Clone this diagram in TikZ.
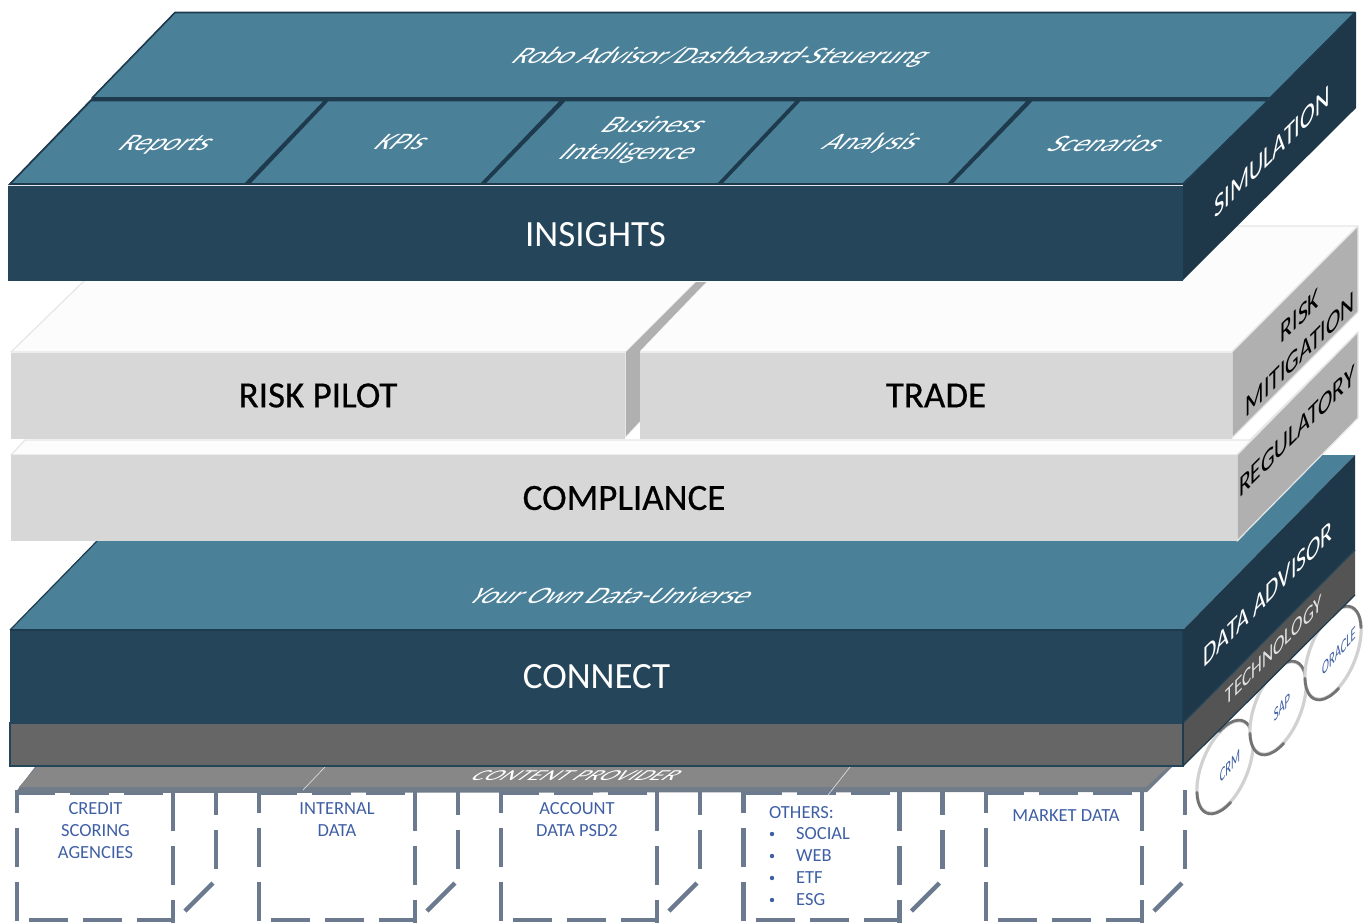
\documentclass[tikz,border=0pt]{standalone}
\usepackage{fontspec}
\setmainfont{Carlito}
\newfontfamily\heavyfont[FakeBold=0.5]{Carlito}
\definecolor{teal}{HTML}{4A8098}
\definecolor{deep}{HTML}{25455A}
\definecolor{sidedeep}{HTML}{1F3849}
\definecolor{seam}{HTML}{1E3A4D}
\definecolor{lightfront}{HTML}{D7D7D7}
\definecolor{lighttop}{HTML}{FCFCFC}
\definecolor{lightside}{HTML}{B0B0B0}
\definecolor{lightedge}{HTML}{E6E6E6}
\definecolor{dashc}{HTML}{6B7A8F}
\definecolor{bluetext}{HTML}{3F5FA5}
\tikzset{
  tealface/.style={fill=teal,draw=seam,line width=1.6pt,line join=round},
  deepfront/.style={fill=deep,draw=none,inner sep=0pt,text=white,font=\fontsize{37}{37}\selectfont},
  lightbox/.style={fill=lightfront,draw=none,inner sep=0pt,text=black,font=\heavyfont\fontsize{37}{37}\selectfont},
  lighttopf/.style={fill=lighttop,draw=lightedge,line width=1.2pt,line join=round},
  lightsidef/.style={fill=lightside,draw=lightedge,line width=1.2pt,line join=round},
  flat/.style={cm={0.95,0,0.78,0.8,(0,0)},transform shape,text=white,align=center,inner sep=0pt,font=\fontsize{#1}{33}\selectfont},
  flat/.default=29.5,
  flatlow/.style={cm={1,0,0.85,0.62,(0,0)},transform shape,text=white,align=center,inner sep=0pt,font=\fontsize{#1}{#1}\selectfont},
  sidetext/.style={cm={0.72,0.72,0,1,(0,0)},transform shape,inner sep=0pt,align=center,font=\fontsize{#1}{#1}\selectfont},
  wheeltext/.style={cm={0.55,0.62,0,1,(0,0)},transform shape,inner sep=0pt,text=bluetext,font=\fontsize{#1}{#1}\selectfont},
  dashes/.style={draw=dashc,line width=4.4pt,dash pattern=on 39pt off 15pt},
  boxtext/.style={text=bluetext,align=center,inner sep=0pt,font=\fontsize{18.5}{22}\selectfont},
  ring/.style={draw=black!18,line width=3.2pt,fill=white},
  ringdark/.style={draw=black!55,line width=2.8pt,line cap=round},
}
\newcommand{\dbox}[1]{%
  \begin{scope}[shift={(#1,0)}]
    \draw[dashes,dash phase=16pt] (0,790) -- (0,924);
    \draw[dashes] (-1,793) -- (160,793);
    \draw[dashes] (12,920) -- (158,920);
    \draw[dashes] (156,792) -- (156,924);
    \draw[dashes,dash phase=14pt] (199,790) -- (199,870);
    \draw[draw=dashc,line width=4.4pt] (196,883) -- (168,911);
  \end{scope}}
\newcommand{\wheel}[2]{%
  \begin{scope}[shift={(#1,#2)},rotate=68]
    \draw[ring] (0,0) ellipse [x radius=49pt,y radius=23pt];
    \draw[ringdark] (34pt,-16.5pt) arc [start angle=-47,end angle=52,x radius=49pt,y radius=23pt];
    \draw[ringdark] (-34pt,16.5pt) arc [start angle=133,end angle=232,x radius=49pt,y radius=23pt];
  \end{scope}}
\begin{document}
\begin{tikzpicture}[x=1pt,y=-1pt]
\useasboundingbox (0,0) rectangle (1370,922);
\begin{scope}
\clip (0,0) rectangle (1370,922);
\dbox{17}
\dbox{259}
\dbox{501}
\dbox{743.5}
\dbox{986}
\end{scope}

% wheels
\wheel{1225}{767}
\wheel{1278}{708}
\wheel{1333}{653}
\node[wheeltext=19] (crm) at (1230,766) {CRM};
\node[wheeltext=19] (sap) at (1282,707) {SAP};
\node[wheeltext=19] (oracle) at (1339,651) {ORACLE};

% content provider plate
\fill[fill=dashc!70!gray] (15,793) -- (35,767) -- (1172,767) -- (1147,792) -- cycle;
\fill[fill=black!47] (19,787) -- (37,767) -- (1168,767) -- (1146,787) -- cycle;
\draw[white!70!gray,line width=.7pt] (325,767) -- (303,790);
\draw[white!70!gray,line width=.7pt] (850,767) -- (828,795);
\node[flatlow=24.5] (provider) at (577,776) {CONTENT PROVIDER};

% connect
\fill[teal] (10,630) -- (97,541) -- (1238,541) -- (1320,455) -- (1355,455) -- (1183,630) -- cycle;
\draw[seam,line width=1.2pt] (10,630) -- (97,541);
\fill[sidedeep] (1183,630) -- (1355,455) -- (1355,550) -- (1183,723) -- cycle;
\fill[black!67] (1183,723) -- (1355,550) -- (1355,595) -- (1183,766) -- cycle;
\draw[deep,line width=1.2pt] (1183,723) -- (1355,550);
\node[deepfront,minimum width=1173pt,minimum height=93pt] (connect) at (596.5,676.5) {CONNECT};
\node[fill=black!60,draw=deep,line width=1.6pt,inner sep=0pt,minimum width=1173pt,minimum height=43pt] (grey) at (596.5,744.5) {};
\draw[seam,line width=1.6pt] (10,630) -- (1183,630) -- (1183,766);
\draw[seam,line width=1.2pt] (1183,766) -- (1355,595);
\node[flat=29.5] (universe) at (613,595) {Your Own Data-Universe};
\node[sidetext=30,text=white] (advisor) at (1268,594) {DATA ADVISOR};
\node[sidetext=24,text=black!12] (tech) at (1274,650) {TECHNOLOGY};

% compliance
\draw[lighttopf] (11,455) -- (25,440) -- (1250,440) -- (1358,332) -- (1237,455) -- cycle;
\draw[lightsidef] (1237,455) -- (1358,332) -- (1358,418) -- (1237,541) -- cycle;
\node[lightbox,minimum width=1226pt,minimum height=86pt] (compliance) at (624,498) {COMPLIANCE};
\node[sidetext=30,text=black] (regulatory) at (1297,431) {REGULATORY};

% risk pilot and trade
\draw[lighttopf] (11,352) -- (85,280) -- (1175,280) -- (1230,226) -- (1358,226) -- (1232,352) -- cycle;
\fill[lightedge] (625,352) -- (695,282) -- (707,282) -- (640,349) -- (640,422) -- (625,438) -- cycle;
\fill[lightside] (626,352) -- (696,282) -- (706,282) -- (640,351) -- (640,421) -- (626,436) -- cycle;
\draw[lightsidef] (1232,352) -- (1358,226) -- (1358,312) -- (1232,438) -- cycle;
\node[lightbox,minimum width=614pt,minimum height=86pt] (pilot) at (318,395.5) {RISK PILOT};
\node[lightbox,minimum width=592pt,minimum height=86pt] (trade) at (936,395.5) {TRADE};
\node[sidetext=30,text=black,font=\fontsize{30}{39}\selectfont] (mitigation) at (1300,335) {RISK\\MITIGATION};

% insights
\fill[sidedeep] (1183,185) -- (1356,12) -- (1356,108) -- (1183,280) -- cycle;
\node[deepfront,minimum width=1175pt,minimum height=95pt,text height=27.5pt,text depth=0pt] (insights) at (595.5,233) {INSIGHTS};
\fill[seam] (8,185) -- (92,98) -- (175,12) -- (1356,12) -- (1183,185) -- cycle;
\draw[tealface] (92,98) -- (175,12.5) -- (1355,12.5) -- (1270,98) -- cycle;
\draw[tealface] (10,184) -- (91,100.5) -- (325,100.5) -- (245,184) -- cycle;
\draw[tealface] (249,184) -- (328,100.5) -- (561,100.5) -- (481,184) -- cycle;
\draw[tealface] (484,184) -- (565,100.5) -- (797,100.5) -- (718,184) -- cycle;
\draw[tealface] (721,184) -- (800,100.5) -- (1028,100.5) -- (948,184) -- cycle;
\draw[tealface] (951,184) -- (1032,100.5) -- (1268,100.5) -- (1183,184) -- cycle;
\node[flat] (robo) at (721,57) {Robo Advisor/Dashboard-Steuerung};
\node[flat] (reports) at (166,144.5) {Reports};
\node[flat] (kpis) at (403,142) {KPIs};
\node[flat] (bi) at (641,140) {Business\\Intelligence};
\node[flat] (analysis) at (872,143) {Analysis};
\node[flat] (scenarios) at (1107,143) {Scenarios};
\node[sidetext=31,text=white] (simulation) at (1272,152) {SIMULATION};

% box labels
\node[boxtext] (credit) at (95.5,830.5) {CREDIT\\SCORING\\AGENCIES};
\node[boxtext] (internal) at (337,819.5) {INTERNAL\\DATA};
\node[boxtext] (account) at (577,819.5) {ACCOUNT\\DATA PSD2};
\node[boxtext,anchor=west] (others) at (769,812.5) {OTHERS:};
\node[boxtext,anchor=west] (social) at (796,834) {SOCIAL};
\node[boxtext,anchor=west] (web) at (796,856) {WEB};
\node[boxtext,anchor=west] (etf) at (796,878) {ETF};
\node[boxtext,anchor=west] (esg) at (796,900) {ESG};
\foreach \yy in {834,856,878,900} \fill[bluetext] (772,\yy) circle (2.2pt);
\node[boxtext] (market) at (1066,815.5) {MARKET DATA};
\end{tikzpicture}
\end{document}
